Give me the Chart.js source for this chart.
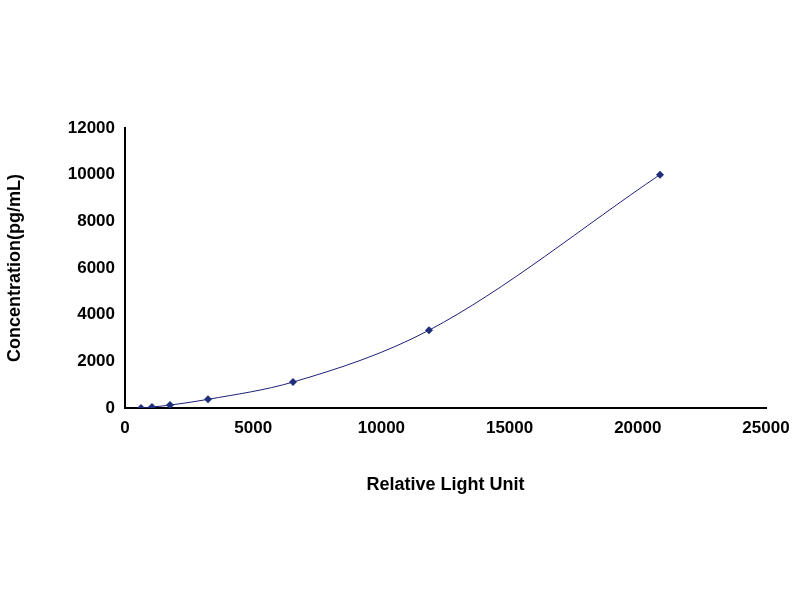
<!DOCTYPE html>
<html><head><meta charset="utf-8">
<script src="https://cdn.jsdelivr.net/npm/chart.js@4/dist/chart.umd.min.js"></script>
<style>body{margin:0;background:#fff}#wrap{width:800px;height:600px}</style>
</head><body><div id="wrap"><canvas id="c" width="800" height="600"></canvas></div>
<script>
const rlu=[624,1053,1755,3237,6552,11856,20866];
const conc=[0,41.15,123.46,370.37,1111.11,3333.33,10000];
const pts=rlu.map((x,i)=>({x,y:conc[i]}));
const tickFont={family:'Liberation Sans, Arial',size:17,weight:'bold'};
const plain=v=>String(v);
new Chart(document.getElementById('c'),{
 type:'scatter',
 data:{datasets:[{data:pts,showLine:true,cubicInterpolationMode:'monotone',borderColor:'#1f1f7a',borderWidth:1,
  backgroundColor:'#1f2f7a',pointStyle:'rectRot',pointRadius:4,pointBorderWidth:0}]},
 options:{responsive:false,animation:false,
  layout:{padding:{left:0,right:34,top:128,bottom:100}},
  plugins:{legend:{display:false},tooltip:{enabled:false}},
  scales:{
   x:{type:'linear',min:0,max:25000,afterFit:s=>{s.height=92},grid:{display:false,drawTicks:true,tickLength:7,tickColor:'#000'},border:{color:'#000',width:2},
    ticks:{stepSize:5000,color:'#000',font:tickFont,maxRotation:0,callback:plain},
    title:{display:true,text:'Relative Light Unit',color:'#000',font:{family:'Liberation Sans, Arial',size:18,weight:'bold'}}},
   y:{min:0,max:12000,afterFit:s=>{s.width=125},grid:{display:false,tickLength:7,tickColor:'#000'},border:{color:'#000',width:2},
    ticks:{stepSize:2000,color:'#000',font:tickFont,callback:plain},
    title:{display:true,text:'Concentration(pg/mL)',color:'#000',font:{family:'Liberation Sans, Arial',size:18,weight:'bold'}}}
  }}
});
</script></body></html>
